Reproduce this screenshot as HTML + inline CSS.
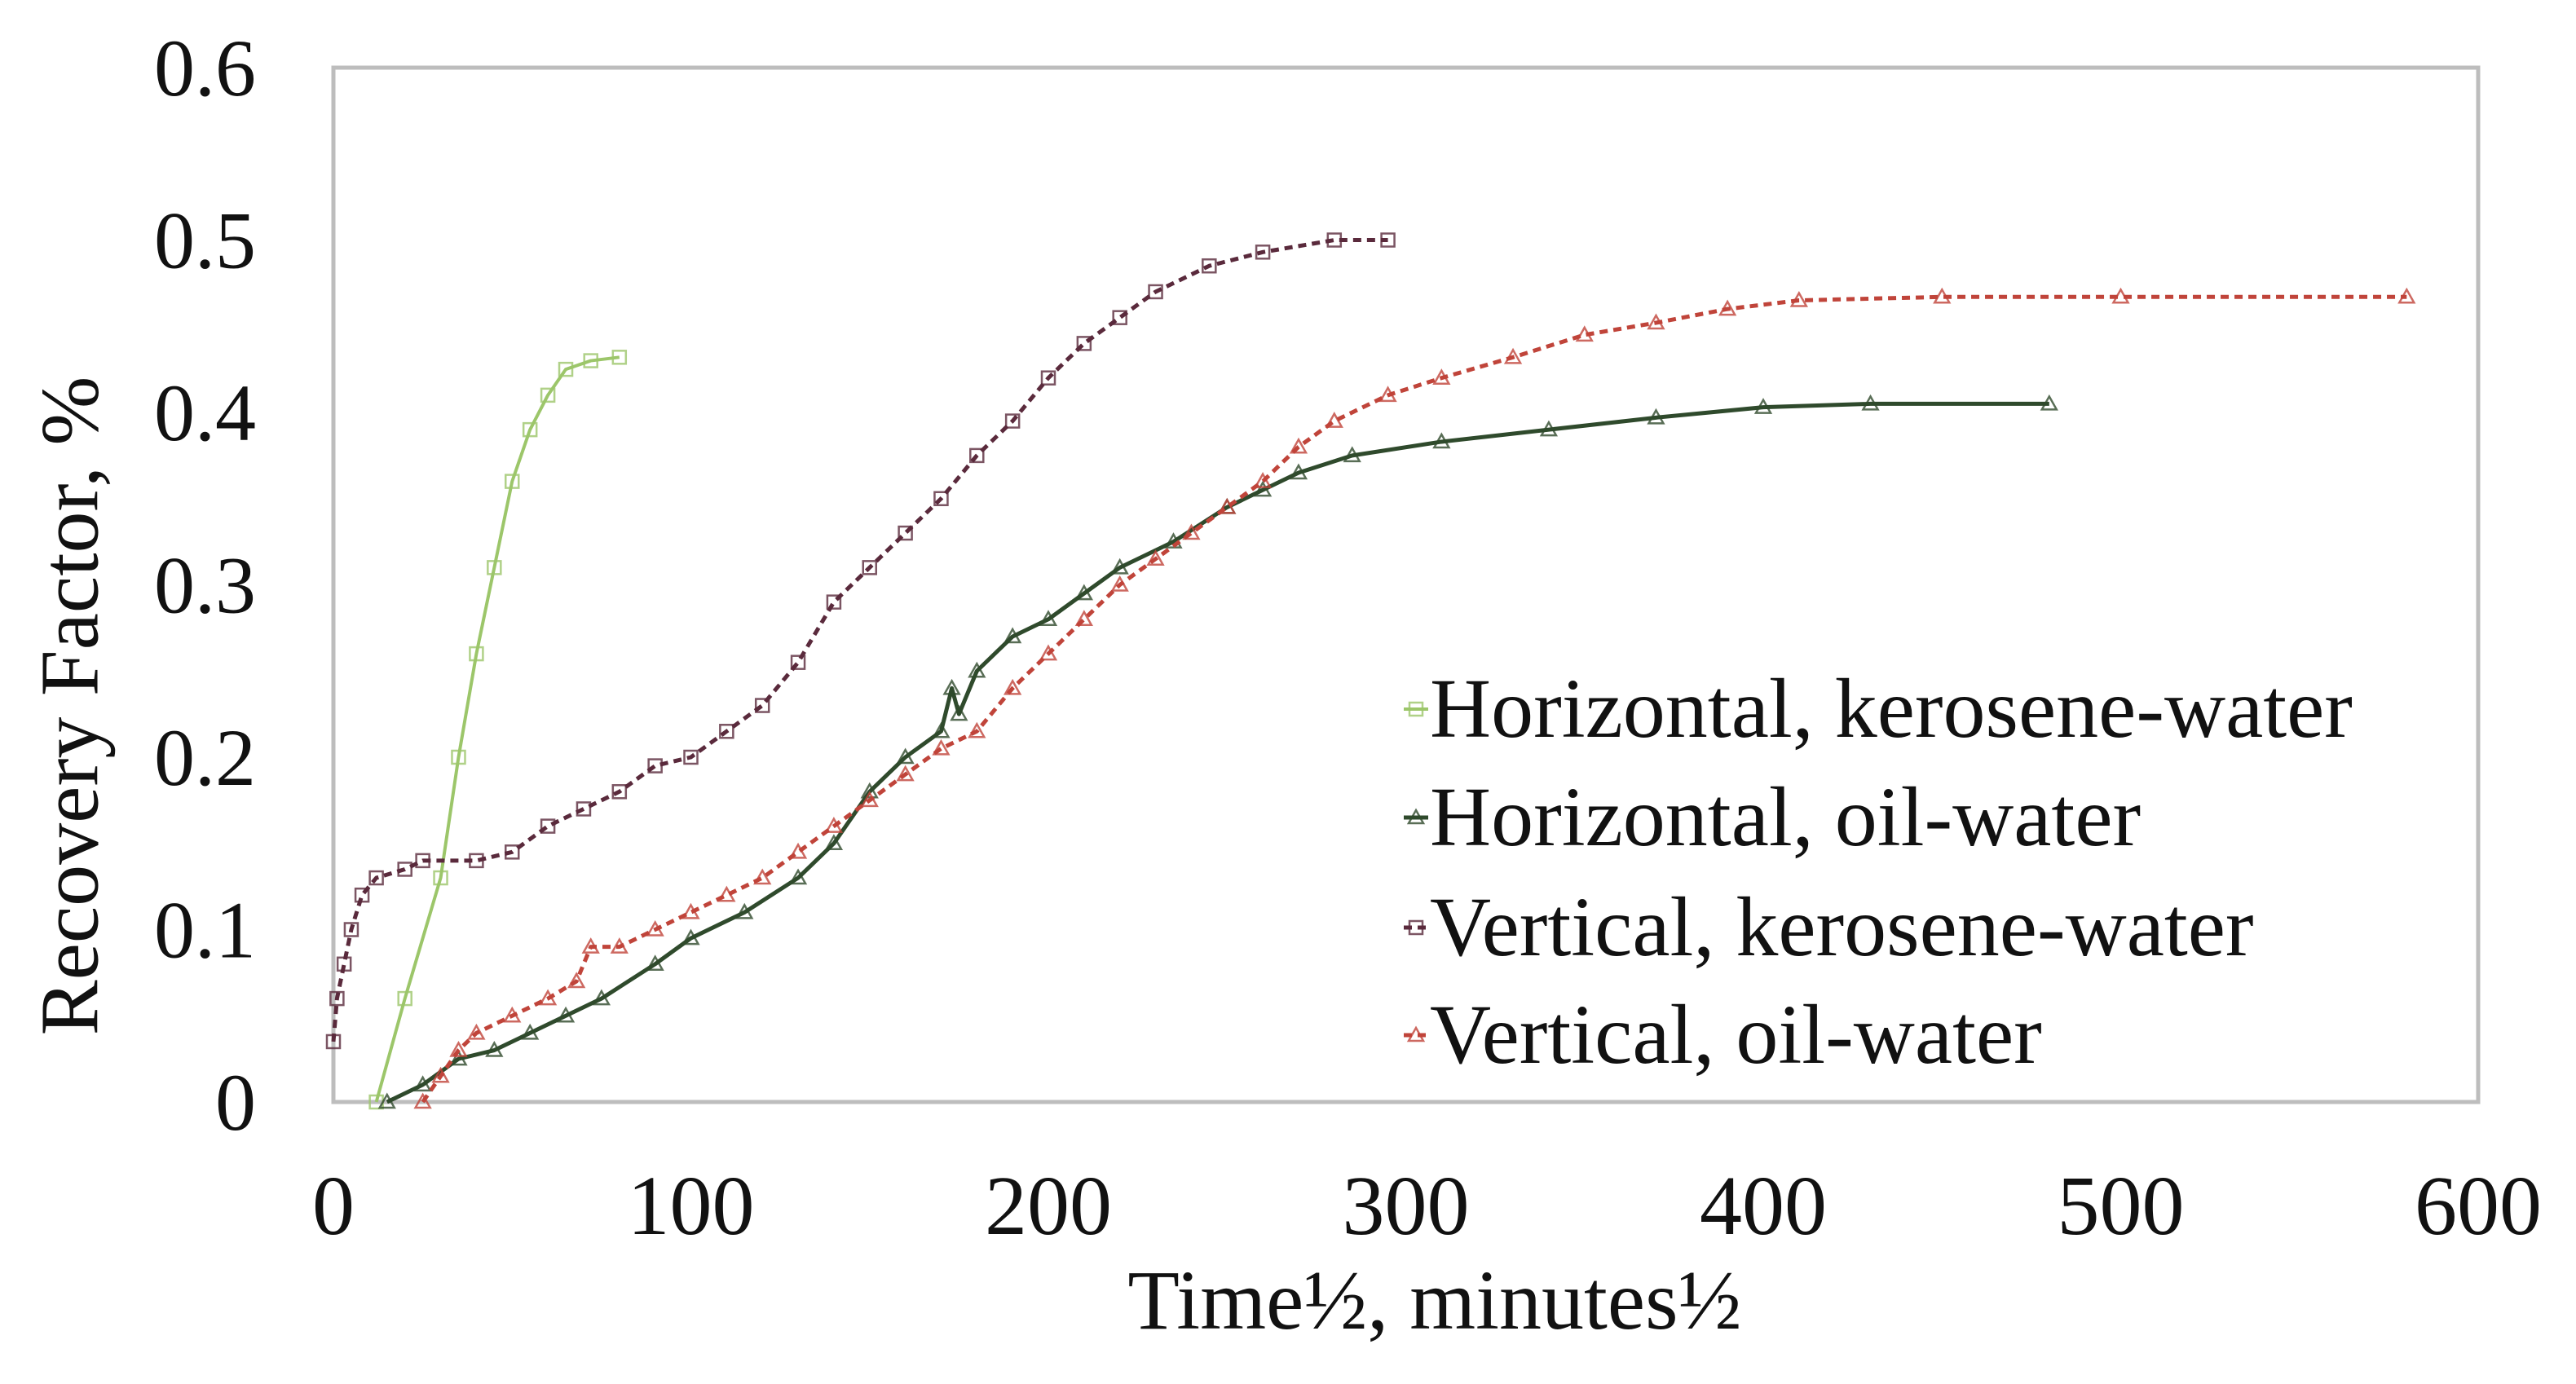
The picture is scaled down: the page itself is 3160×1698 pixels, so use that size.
<!DOCTYPE html>
<html><head><meta charset="utf-8"><style>
html,body{margin:0;padding:0;background:#fff;}
svg{display:block;}
text{font-family:"Liberation Serif",serif;fill:#111;}
</style></head><body>
<svg id="chart" width="3160" height="1698" viewBox="0 0 3160 1698">
<rect x="409" y="83" width="2631" height="1269" fill="#fff" stroke="#bdbdbd" stroke-width="5"/>
<g id="yticks"></g>
<g id="xticks"></g>
<g id="series"></g>
<text x="1760" y="1630" font-size="104" text-anchor="middle">Time½, minutes½</text>
<text transform="translate(96,866) rotate(-90)" font-size="102" text-anchor="middle" dominant-baseline="middle">Recovery Factor, %</text>
<g id="legend"></g>
</svg>
<script>
const xTicks=[0,100,200,300,400,500,600];
const yTicks=[0,0.1,0.2,0.3,0.4,0.5,0.6];
const yTickLabels=["0","0.1","0.2","0.3","0.4","0.5","0.6"];
const seriesNames=["Horizontal, kerosene-water","Horizontal, oil-water","Vertical, kerosene-water","Vertical, oil-water"];
const hkX=[12,20,30,35,40,45,50,55,60,65,72,80];
const hkY=[0,0.06,0.13,0.2,0.26,0.31,0.36,0.39,0.41,0.425,0.43,0.432];
const hoX=[15,25,35,45,55,65,75,90,100,115,130,140,150,160,170,173,175,180,190,200,210,220,235,250,260,270,285,310,340,370,400,430,480];
const hoY=[0,0.01,0.025,0.03,0.04,0.05,0.06,0.08,0.095,0.11,0.13,0.15,0.18,0.2,0.215,0.24,0.225,0.25,0.27,0.28,0.295,0.31,0.325,0.345,0.355,0.365,0.375,0.383,0.39,0.397,0.403,0.405,0.405];
const vkX=[0,1,3,5,8,12,20,25,40,50,60,70,80,90,100,110,120,130,140,150,160,170,180,190,200,210,220,230,245,260,280,295];
const vkY=[0.035,0.06,0.08,0.1,0.12,0.13,0.135,0.14,0.14,0.145,0.16,0.17,0.18,0.195,0.2,0.215,0.23,0.255,0.29,0.31,0.33,0.35,0.375,0.395,0.42,0.44,0.455,0.47,0.485,0.493,0.5,0.5];
const voX=[25,30,35,40,50,60,68,72,80,90,100,110,120,130,140,150,160,170,180,190,200,210,220,230,240,250,260,270,280,295,310,330,350,370,390,410,450,500,580];
const voY=[0,0.015,0.03,0.04,0.05,0.06,0.07,0.09,0.09,0.1,0.11,0.12,0.13,0.145,0.16,0.175,0.19,0.205,0.215,0.24,0.26,0.28,0.3,0.315,0.33,0.345,0.36,0.38,0.395,0.41,0.42,0.432,0.445,0.452,0.46,0.465,0.467,0.467,0.467];

const NS="http://www.w3.org/2000/svg";
const X0=409,X1=3040,Y0=1352,Y1=83;
const sx=v=>X0+(v-0)/(600-0)*(X1-X0);
const sy=v=>Y0-(v-0)/(0.6-0)*(Y0-Y1);
function mk(tag,attrs,parent){const e=document.createElementNS(NS,tag);for(const k in attrs)e.setAttribute(k,attrs[k]);parent.appendChild(e);return e;}

const yg=document.getElementById('yticks');
yTicks.forEach((v,i)=>{const t=mk('text',{x:314,y:sy(v)+34,'font-size':100,'text-anchor':'end'},yg);t.textContent=yTickLabels[i];

});
const xg=document.getElementById('xticks');
xTicks.forEach(v=>{const t=mk('text',{x:sx(v),y:1514,'font-size':104,'text-anchor':'middle'},xg);t.textContent=String(v);

});

const styles=[
 {c:'#9cc66a',w:4,dash:'',m:'sq'},
 {c:'#2f4a2c',w:5,dash:'',m:'tri'},
 {c:'#5a2a3c',w:5,dash:'10,7',m:'sq'},
 {c:'#c0443a',w:5,dash:'10,7',m:'tri'}];
const data=[[hkX,hkY],[hoX,hoY],[vkX,vkY],[voX,voY]];
const sg=document.getElementById('series');
function marker(type,x,y,c,g){
 if(type==='sq') return mk('rect',{x:x-8,y:y-8,width:16,height:16,fill:'none',stroke:c,'stroke-width':2.5,opacity:0.8},g);
 return mk('polygon',{points:`${x},${y-9} ${x+9},${y+7} ${x-9},${y+7}`,fill:'none',stroke:c,'stroke-width':2.5,opacity:0.8},g);
}
data.forEach((d,i)=>{
 const st=styles[i];
 const g=mk('g',{},sg);
 
 
 const pts=d[0].map((x,j)=>sx(x)+','+sy(d[1][j])).join(' ');
 const pl=mk('polyline',{points:pts,fill:'none',stroke:st.c,'stroke-width':st.w,'stroke-dasharray':st.dash,'stroke-linejoin':'round'},g);
 
 
 d[0].forEach((x,j)=>{const m=marker(st.m,sx(x),sy(d[1][j]),st.c,g);
  
  });
});

const lg=document.getElementById('legend');
const ly=[870,1003,1138,1270];
seriesNames.forEach((n,i)=>{
 const st=styles[i];
 const g=mk('g',{},lg);
 
 
 mk('line',{x1:1722,y1:ly[i],x2:1752,y2:ly[i],stroke:st.c,'stroke-width':st.w,'stroke-dasharray':st.dash},g);
 marker(st.m,1737,ly[i],st.c,g);
 const t=mk('text',{x:1754,y:ly[i]+34,'font-size':104},g);
 t.textContent=n;
});
</script>
</body></html>
